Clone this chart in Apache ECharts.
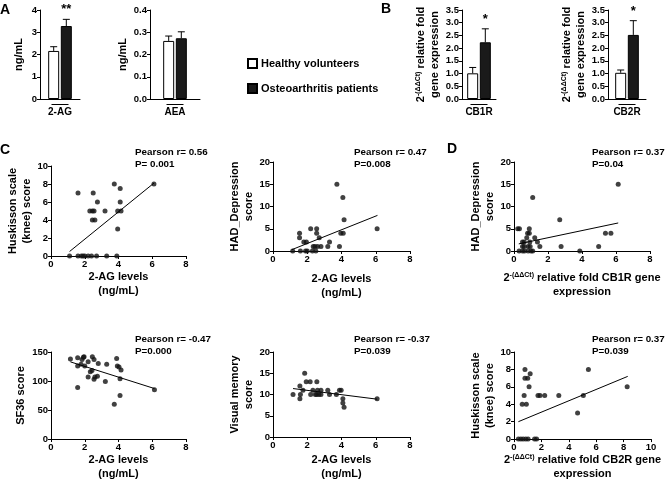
<!DOCTYPE html>
<html><head><meta charset="utf-8">
<script src="https://cdn.jsdelivr.net/npm/echarts@6/dist/echarts.min.js"></script>
<style>html,body{margin:0;padding:0;background:#fff}#c{width:666px;height:482px}</style>
</head><body><div id="c"></div><script>
// ---------- bar panels (A, B) ----------
const barGroups = ['2-AG', 'AEA', 'CB1R', 'CB2R'];
const healthyMean = [2.16, 0.261, 1.01, 1.03];
const healthyErr = [0.19, 0.022, 0.23, 0.11];
const oaMean = [3.28, 0.273, 2.23, 2.52];
const oaErr = [0.30, 0.029, 0.53, 0.56];
const significance = ['**', '', '*', '*'];
const barYMax = [4, 0.4, 3.5, 3.5];
const barYStep = [1, 0.1, 0.5, 0.5];
const barYDecimals = [0, 1, 1, 1];
const seriesNames = ['Healthy volunteers', 'Osteoarthritis patients'];

// ---------- scatter panels (C, D) ----------
const huskissonVs2AG = [[1.1,0],[1.6,7],[1.6,0],[1.8,0],[1.9,0],[2.0,0],[2.2,0],[2.4,0],[2.3,5],[2.45,5],[2.55,5],[2.45,4],[2.6,4],[2.5,7],[2.75,6],[2.7,0],[3.2,5],[3.3,0],[3.75,8],[3.9,0],[3.95,5],[3.95,3],[4.1,7.5],[4.1,6],[4.15,5],[6.1,8]];
const huskissonVs2AGFit = [[1.1,0.5],[6.1,8.1]];
const hadVs2AG = [[1.15,0],[1.55,4],[1.55,3],[1.6,0],[1.8,2],[1.95,2],[1.9,0],[2.0,0],[2.2,5],[2.3,0],[2.35,1],[2.45,1],[2.55,5],[2.55,4],[2.5,0],[2.6,1],[2.7,3],[2.8,1],[3.2,1],[3.3,2],[3.73,15],[3.88,1],[3.96,4],[4.1,4],[4.08,12],[4.15,7],[6.08,5]];
const hadVs2AGFit = [[1.1,0.3],[6.1,8]];
const hadVsCB1R = [[0.22,5],[0.32,5],[0.3,0],[0.5,2],[0.6,2],[0.5,1],[0.6,1],[0.5,0],[0.62,0],[0.75,3],[0.8,4],[0.9,5],[0.9,4],[0.83,1],[0.83,0],[0.93,2],[0.95,1],[1.0,0],[1.1,0],[1.1,12],[1.22,3],[1.38,2],[1.52,1],[2.69,7],[2.77,1],[3.87,0],[4.98,1],[5.38,4],[5.7,4],[6.13,15]];
const hadVsCB1RFit = [[0.28,1.6],[6.13,6.3]];
const sf36Vs2AG = [[1.15,138],[1.58,140],[1.58,89],[1.58,126],[1.78,129],[1.84,137],[1.92,141],[1.96,142],[2.0,126],[2.2,133],[2.2,107],[2.33,116],[2.43,118],[2.45,142],[2.55,137],[2.55,103],[2.6,107],[2.75,108],[2.8,130],[3.22,99],[3.3,129],[3.75,60],[3.89,139],[3.93,126],[4.03,124],[4.09,104],[4.09,75],[4.15,119],[6.13,85]];
const sf36Vs2AGFit = [[1.15,133],[6.13,87]];
const visualVs2AG = [[1.17,10],[1.57,12],[1.57,9],[1.6,10],[1.75,11],[1.85,15],[1.94,13],[2.17,13],[2.2,10],[2.33,11],[2.47,10],[2.56,13],[2.55,10],[2.68,10],[2.6,11],[2.8,11],[2.8,10],[3.2,11],[3.3,10],[3.7,10],[3.88,11],[3.98,11],[4.08,9],[4.08,8],[4.15,7],[6.08,9]];
const visualVs2AGFit = [[1.17,11.4],[6.08,8.9]];
const huskissonVsCB2R = [[0.32,0],[0.5,0],[0.67,0],[0.86,0],[1.03,0],[0.6,4],[0.9,4],[0.74,5],[0.8,7],[1.0,7],[0.8,8],[1.1,6],[1.18,7.5],[1.5,0],[1.65,0],[1.75,5],[1.9,5],[2.24,5],[3.27,5],[4.64,3],[5.06,5],[5.43,8],[8.26,6]];
const huskissonVsCB2RFit = [[0.32,2.0],[8.3,7.2]];

const scatterSets = [huskissonVs2AG, hadVs2AG, hadVsCB1R, sf36Vs2AG, visualVs2AG, huskissonVsCB2R];
const fitSets = [huskissonVs2AGFit, hadVs2AGFit, hadVsCB1RFit, sf36Vs2AGFit, visualVs2AGFit, huskissonVsCB2RFit];
const scatterXMax = [8, 8, 8, 8, 8, 10];
const scatterYMax = [10, 20, 20, 150, 20, 10];
const scatterYStep = [2, 5, 5, 50, 5, 2];
const pearsonR = ['0.56', '0.47', '0.37', '-0.47', '-0.37', '0.37'];
const pearsonP = ['P= 0.001', 'P=0.008', 'P=0.04', 'P=0.000', 'P=0.039', 'P=0.039'];
const scatterYNames = ['Huskisson scale\n(knee) score', 'HAD_Depression\nscore', 'HAD_Depression\nscore', 'SF36 score', 'Visual memory\nscore', 'Huskisson scale\n(knee) score'];
const scatterXNames = ['2-AG levels\n(ng/mL)', '2-AG levels\n(ng/mL)', '{b|2}{s|-(ΔΔCt)}{b| relative fold CB1R gene}\n{b|expression}', '2-AG levels\n(ng/mL)', '2-AG levels\n(ng/mL)', '{b|2}{s|-(ΔΔCt)}{b| relative fold CB2R gene}\n{b|expression}'];
const barYNames = ['ng/mL', 'ng/mL', '{b|2}{s|-(ΔΔCt)}{b| relative fold}\n{b|gene expression}', '{b|2}{s|-(ΔΔCt)}{b| relative fold}\n{b|gene expression}'];
const panelLetters = ['A', 'B', 'C', 'D'];

// ---------- layout ----------
const FONT = 'Liberation Sans, Arial, sans-serif';
const barGrids = [[40,10,40,89],[150,10,50,89],[462,10,34,89],[608,10,38,89]];
const barYNameGap = [14, 12, 18, 19];
const scatterGrids = [[51,166,135,90],[273,162,137,89],[514,162,136,89],[51,352,135,90],[273,352,137,89],[514,352,137,90]];
const scatterYNameGap = [12, 13, 13, 20, 13, 13];
const scatterXNameGap = [14, 21, 20, 14, 16, 13];
const pearsonPos = [[135,146],[354,146],[592,146],[135,333],[354,333],[592,333]];
const letterPos = [[0,3],[381,2],[0,143],[447,142]];

const richSup = {
  b: {fontSize: 11, fontWeight: 'bold', color: '#000', fontFamily: FONT, lineHeight: 14},
  s: {fontSize: 7, color: '#000', fontFamily: FONT, padding: [0, 0, 5, 0]}
};
const axisLineStyle = {show: true, onZero: false, lineStyle: {color: '#000', width: 1}};
const tickStyle = {show: true, inside: false, length: 3, lineStyle: {color: '#000', width: 1}};
const labelStyle = {color: '#000', fontWeight: 'bold', fontSize: 9.5, fontFamily: FONT, margin: 3};
const nameStyle = {color: '#000', fontWeight: 'bold', fontSize: 11, fontFamily: FONT, lineHeight: 14, rich: richSup};

const grid = [], xAxis = [], yAxis = [], series = [], title = [];

barGroups.forEach((g, i) => {
  const [l, t, w, h] = barGrids[i];
  grid.push({left: l, top: t, width: w, height: h});
  xAxis.push({
    type: 'category', gridIndex: i, data: [g],
    axisLine: axisLineStyle, axisTick: {show: false},
    axisLabel: {
      margin: 3, interval: 0,
      formatter: v => '{ln|}\n{t|' + v + '}',
      rich: {
        ln: {width: 17, height: 1, lineHeight: 5, backgroundColor: '#000'},
        t: {fontSize: 10, fontWeight: 'bold', color: '#000', fontFamily: FONT, lineHeight: 11}
      }
    }
  });
  yAxis.push({
    type: 'value', gridIndex: i, min: 0, max: barYMax[i], interval: barYStep[i],
    axisLine: axisLineStyle, axisTick: tickStyle, splitLine: {show: false},
    axisLabel: Object.assign({}, labelStyle, {formatter: v => v.toFixed(barYDecimals[i])}),
    name: barYNames[i], nameLocation: 'middle', nameRotate: 90, nameGap: barYNameGap[i],
    nameTextStyle: nameStyle
  });
  series.push({
    name: seriesNames[0], type: 'bar', xAxisIndex: i, yAxisIndex: i,
    data: [healthyMean[i]], barWidth: 11, barGap: '15%',
    itemStyle: {color: '#fff', borderColor: '#000', borderWidth: 1}
  });
  series.push({
    name: seriesNames[1], type: 'bar', xAxisIndex: i, yAxisIndex: i,
    data: [oaMean[i]], barWidth: 11,
    itemStyle: {color: '#1a1a1a', borderColor: '#000', borderWidth: 1}
  });
  series.push({
    type: 'custom', xAxisIndex: i, yAxisIndex: i, silent: true, z: 5,
    data: [[0, healthyMean[i], healthyErr[i], -1, ''], [0, oaMean[i], oaErr[i], 1, significance[i]]],
    encode: {x: 0, y: 1},
    renderItem: (params, api) => {
      const m = api.value(1), e = api.value(2), s = api.value(3);
      const base = api.coord([0, m]);
      const top = api.coord([0, m + e]);
      const x = base[0] + s * 6.3;
      const st = {stroke: '#000', lineWidth: 1};
      const children = [
        {type: 'line', shape: {x1: x, y1: base[1], x2: x, y2: top[1]}, style: st},
        {type: 'line', shape: {x1: x - 3.5, y1: top[1], x2: x + 3.5, y2: top[1]}, style: st}
      ];
      const sig = api.value(4);
      if (sig) children.push({type: 'text', style: {text: sig, x: x, y: top[1] - 3, textAlign: 'center', textVerticalAlign: 'bottom', fill: '#000', font: 'bold 13px ' + FONT}});
      return {type: 'group', children};
    }
  });
});

scatterSets.forEach((pts, k) => {
  const gi = k + 4;
  const [l, t, w, h] = scatterGrids[k];
  grid.push({left: l, top: t, width: w, height: h});
  xAxis.push({
    type: 'value', gridIndex: gi, min: 0, max: scatterXMax[k], interval: 2,
    axisLine: axisLineStyle, axisTick: tickStyle, splitLine: {show: false},
    axisLabel: labelStyle,
    name: scatterXNames[k], nameLocation: 'middle', nameGap: scatterXNameGap[k],
    nameTextStyle: Object.assign({}, nameStyle, {lineHeight: 14})
  });
  yAxis.push({
    type: 'value', gridIndex: gi, min: 0, max: scatterYMax[k], interval: scatterYStep[k],
    axisLine: axisLineStyle, axisTick: tickStyle, splitLine: {show: false},
    axisLabel: labelStyle,
    name: scatterYNames[k], nameLocation: 'middle', nameRotate: 90, nameGap: scatterYNameGap[k],
    nameTextStyle: nameStyle
  });
  series.push({
    type: 'scatter', xAxisIndex: gi, yAxisIndex: gi, data: pts,
    symbolSize: 5, itemStyle: {color: '#111'}, silent: true
  });
  series.push({
    type: 'line', xAxisIndex: gi, yAxisIndex: gi, data: fitSets[k],
    showSymbol: false, symbol: 'none', lineStyle: {color: '#000', width: 1}, silent: true
  });
  title.push({
    text: 'Pearson r= ' + pearsonR[k] + '\n' + pearsonP[k],
    left: pearsonPos[k][0], top: pearsonPos[k][1], padding: 0,
    textStyle: {fontSize: 9.8, fontWeight: 'bold', color: '#000', fontFamily: FONT, lineHeight: 12}
  });
});

panelLetters.forEach((L, i) => {
  title.push({
    text: L, left: letterPos[i][0], top: letterPos[i][1], padding: 0,
    textStyle: {fontSize: 14, fontWeight: 'bold', color: '#000', fontFamily: FONT}
  });
});

const chart = echarts.init(document.getElementById('c'), null, {renderer: 'canvas'});
chart.setOption({
  animation: false,
  backgroundColor: '#fff',
  textStyle: {fontFamily: FONT},
  title,
  legend: {
    data: seriesNames, orient: 'vertical', left: 247, top: 58, padding: 0,
    itemWidth: 9, itemHeight: 9, itemGap: 14, icon: 'rect',
    textStyle: {fontSize: 11, fontWeight: 'bold', color: '#000', fontFamily: FONT, padding: [0, 0, 0, -1]},
    selectedMode: false
  },
  grid, xAxis, yAxis, series
});
</script></body></html>
